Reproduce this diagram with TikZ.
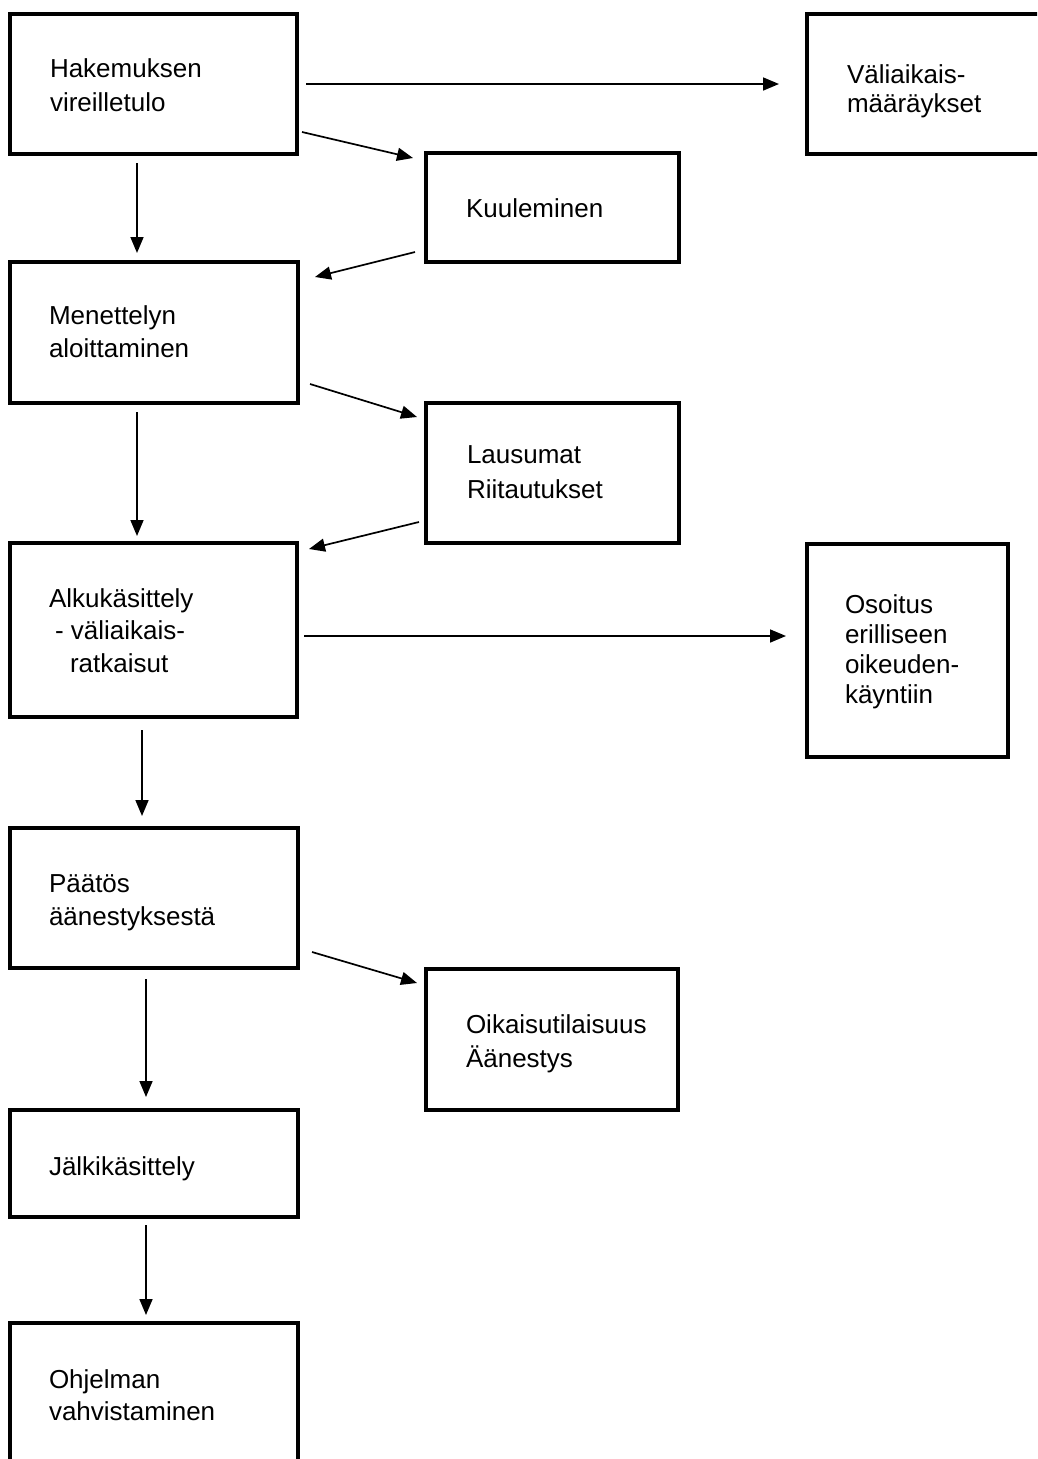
\documentclass[tikz,border=0pt]{standalone}
\usepackage{fontspec}
\setmainfont{Liberation Sans}
\usetikzlibrary{arrows.meta}
\tikzset{
  box/.style={draw=black, line width=3.3pt, rectangle, inner sep=0pt, outer sep=0pt},
  txt/.style={anchor=base west, inner sep=0pt, outer sep=0pt, font=\fontsize{26}{30}\selectfont},
  conn/.style={draw=black, line width=1.7pt, -{Triangle[length=16pt,width=13pt]}},
}
\begin{document}
\begin{tikzpicture}[x=1pt,y=-1pt]
\path[use as bounding box] (0,0) rectangle (1037,1459);
\clip (0,0) rectangle (1037,1459);
\fill[white] (0,0) rectangle (1037,1459);

% boxes
\node[box, minimum width=287pt, minimum height=140pt] (hak) at (153.5,84) {};
\node[box, minimum width=243pt, minimum height=140pt] (val) at (928.5,84) {};
\node[box, minimum width=253pt, minimum height=109pt] (kuu) at (552.5,207.5) {};
\node[box, minimum width=288pt, minimum height=141pt] (men) at (154,332.5) {};
\node[box, minimum width=253pt, minimum height=140pt] (lau) at (552.5,473) {};
\node[box, minimum width=287pt, minimum height=174pt] (alk) at (153.5,630) {};
\node[box, minimum width=201pt, minimum height=213pt] (oso) at (907.5,650.5) {};
\node[box, minimum width=288pt, minimum height=140pt] (paa) at (154,898) {};
\node[box, minimum width=252pt, minimum height=141pt] (oik) at (552,1039.5) {};
\node[box, minimum width=288pt, minimum height=107pt] (jal) at (154,1163.5) {};
\node[box, minimum width=288pt, minimum height=157pt] (ohj) at (154,1401.5) {};

% texts
\node[txt] (hak1) at (50,77) {Hakemuksen};
\node[txt] (hak2) at (50,111) {vireilletulo};
\node[txt] (val1) at (847,83) {Väliaikais-};
\node[txt] (val2) at (847,112) {määräykset};
\node[txt] (kuu1) at (466,217) {Kuuleminen};
\node[txt] (men1) at (49,324) {Menettelyn};
\node[txt] (men2) at (49,357) {aloittaminen};
\node[txt] (lau1) at (467,463) {Lausumat};
\node[txt] (lau2) at (467,498) {Riitautukset};
\node[txt] (alk1) at (49,607) {Alkukäsittely};
\node[txt] (alk2) at (55,639) {- väliaikais-};
\node[txt] (alk3) at (70,672) {ratkaisut};
\node[txt] (oso1) at (845,613) {Osoitus};
\node[txt] (oso2) at (845,643) {erilliseen};
\node[txt] (oso3) at (845,673) {oikeuden-};
\node[txt] (oso4) at (845,703) {käyntiin};
\node[txt] (paa1) at (49,892) {Päätös};
\node[txt] (paa2) at (49,925) {äänestyksestä};
\node[txt] (oik1) at (466,1033) {Oikaisutilaisuus};
\node[txt] (oik2) at (466,1067) {Äänestys};
\node[txt] (jal1) at (49,1175) {Jälkikäsittely};
\node[txt] (ohj1) at (49,1388) {Ohjelman};
\node[txt] (ohj2) at (49,1420) {vahvistaminen};

% connector end points
\coordinate (a1s) at (306,84);   \coordinate (a1e) at (779,84);
\coordinate (a2s) at (302,132);  \coordinate (a2e) at (413,158);
\coordinate (a3s) at (137,163);  \coordinate (a3e) at (137,253);
\coordinate (a4s) at (415,252);  \coordinate (a4e) at (315,277);
\coordinate (a5s) at (310,384);  \coordinate (a5e) at (417,417);
\coordinate (a6s) at (137,412);  \coordinate (a6e) at (137,536);
\coordinate (a7s) at (419,522);  \coordinate (a7e) at (309,549);
\coordinate (a8s) at (304,636);  \coordinate (a8e) at (786,636);
\coordinate (a9s) at (142,730);  \coordinate (a9e) at (142,816);
\coordinate (a10s) at (312,952); \coordinate (a10e) at (417,983);
\coordinate (a11s) at (146,979); \coordinate (a11e) at (146,1097);
\coordinate (a12s) at (146,1225);\coordinate (a12e) at (146,1315);

\draw[conn] (a1s) -- (a1e);
\draw[conn] (a2s) -- (a2e);
\draw[conn] (a3s) -- (a3e);
\draw[conn] (a4s) -- (a4e);
\draw[conn] (a5s) -- (a5e);
\draw[conn] (a6s) -- (a6e);
\draw[conn] (a7s) -- (a7e);
\draw[conn] (a8s) -- (a8e);
\draw[conn] (a9s) -- (a9e);
\draw[conn] (a10s) -- (a10e);
\draw[conn] (a11s) -- (a11e);
\draw[conn] (a12s) -- (a12e);
\end{tikzpicture}
\end{document}
